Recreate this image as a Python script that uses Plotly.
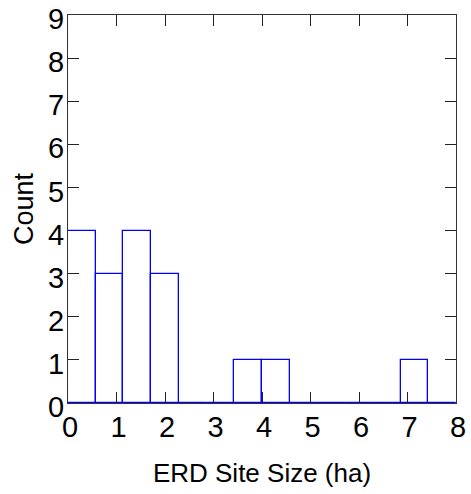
import plotly.graph_objects as go

# Histogram data: 14 bins spanning 0..8
bin_edges = [i * 8 / 14 for i in range(15)]
counts = [4, 3, 4, 3, 0, 0, 1, 1, 0, 0, 0, 0, 1, 0]
x_ticks = [0, 1, 2, 3, 4, 5, 6, 7, 8]
y_ticks = [0, 1, 2, 3, 4, 5, 6, 7, 8, 9]

centers = [(bin_edges[i] + bin_edges[i + 1]) / 2 for i in range(len(counts))]
widths = [bin_edges[i + 1] - bin_edges[i] for i in range(len(counts))]

FONT = "Liberation Sans, Arial, sans-serif"

fig = go.Figure()
fig.add_trace(go.Bar(
    x=centers, y=counts, width=widths,
    marker=dict(color="rgba(0,0,0,0)", line=dict(color="#0000ff", width=1.3)),
    cliponaxis=False, showlegend=False,
))
fig.add_trace(go.Scatter(
    x=[bin_edges[0], bin_edges[-1]], y=[0, 0], mode="lines",
    line=dict(color="#0000ff", width=1.3), cliponaxis=False, showlegend=False,
))

fig.update_layout(
    width=471, height=494,
    margin=dict(l=68, r=15, t=15, b=91, autoexpand=False),
    paper_bgcolor="white", plot_bgcolor="white",
    font=dict(family=FONT, size=29, color="black"),
    bargap=0,
)
fig.update_xaxes(
    range=[0, 8], tickvals=x_ticks, ticktext=[str(v) for v in x_ticks],
    ticks="inside", ticklen=11, tickcolor="#222", tickwidth=1.3,
    showline=True, linecolor="#333", linewidth=1.3, mirror="ticks",
    showgrid=False, zeroline=False, layer="below traces",
    tickfont=dict(size=29), ticklabelshift=2, ticklabelstandoff=-2,
    ticklabeloverflow="allow", automargin=False,
    title=dict(text="ERD Site Size (ha)", font=dict(size=26), standoff=21),
)
fig.update_yaxes(
    range=[0, 9], tickvals=y_ticks, ticktext=[str(v) for v in y_ticks],
    ticks="inside", ticklen=11, tickcolor="#222", tickwidth=1.3,
    showline=True, linecolor="#333", linewidth=1.3, mirror="ticks",
    showgrid=False, zeroline=False, layer="below traces",
    tickfont=dict(size=29), ticklabelshift=4, ticklabelstandoff=-3,
    ticklabeloverflow="allow", automargin=False,
    title=dict(text="Count", font=dict(size=27), standoff=6),
)

fig.write_html("out.html")
